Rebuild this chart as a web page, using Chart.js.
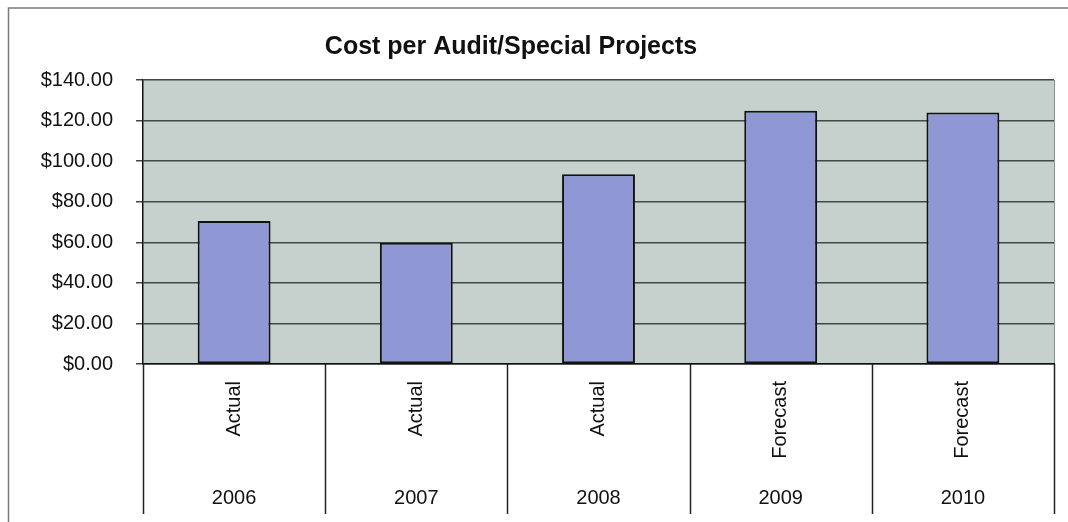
<!DOCTYPE html>
<html>
<head>
<meta charset="utf-8">
<script src="https://cdn.jsdelivr.net/npm/chart.js@4/dist/chart.umd.min.js"></script>
<style>
  html, body { margin: 0; padding: 0; background: #ffffff; }
  #wrap { width: 1068px; height: 522px; position: relative; }
</style>
</head>
<body>
<div id="wrap"><canvas id="auditChart"></canvas></div>
<script>
// Cost per audit by year
const years = ['2006', '2007', '2008', '2009', '2010'];
const status = ['Actual', 'Actual', 'Actual', 'Forecast', 'Forecast'];
const costs = [70.5, 59.8, 93.6, 124.8, 124.0];
const yMin = 0, yMax = 140, yStep = 20;

const titleText = 'Cost per Audit/Special Projects';
const fontFamily = '"Liberation Sans", Arial, sans-serif';

// plot background, outer frame, category dividers and title
const decorations = {
    id: 'decorations',
    beforeDraw(chart) {
        const {ctx, chartArea: a} = chart;
        ctx.save();
        ctx.fillStyle = '#c6d1ce';
        ctx.fillRect(a.left, a.top, a.right - a.left, a.bottom - a.top);
        ctx.strokeStyle = '#8a9290';
        ctx.lineWidth = 1;
        ctx.beginPath();
        ctx.moveTo(a.right + 0.5, a.top);
        ctx.lineTo(a.right + 0.5, a.bottom);
        ctx.stroke();
        ctx.restore();
    },
    afterDraw(chart) {
        const {ctx, chartArea: a} = chart;
        const x = chart.scales.x;
        ctx.save();
        // category table lines under the axis
        ctx.strokeStyle = '#222';
        ctx.lineWidth = 1.5;
        const half = (x.getPixelForValue(1) - x.getPixelForValue(0)) / 2;
        for (let i = 0; i <= years.length; i++) {
            const px = Math.round(x.getPixelForValue(0) - half + i * half * 2) + 0.5;
            ctx.beginPath();
            ctx.moveTo(px, a.bottom);
            ctx.lineTo(px, 514);
            ctx.stroke();
        }
        // outer frame
        ctx.strokeStyle = '#7a7a7a';
        ctx.lineWidth = 1.5;
        ctx.beginPath();
        ctx.moveTo(8.5, 522);
        ctx.lineTo(8.5, 8);
        ctx.lineTo(1068, 8);
        ctx.stroke();
        // title
        ctx.fillStyle = '#111';
        ctx.font = 'bold 25px ' + fontFamily;
        ctx.textAlign = 'center';
        ctx.textBaseline = 'middle';
        ctx.fillText(titleText, 511, 47);
        ctx.restore();
    }
};

const ctx = document.getElementById('auditChart').getContext('2d');

const audit_chart = new Chart(ctx, {
    type: 'bar',
    data: {
        labels: status,
        datasets: [{
            label: 'Cost per Audit',
            data: costs,
            xAxisID: 'x',
            yAxisID: 'y',
            backgroundColor: '#8f98d4',
            borderColor: '#111111',
            borderWidth: 2,
            borderSkipped: false,
            categoryPercentage: 1.0,
            barPercentage: 0.4
        }]
    },
    options: {
        responsive: true,
        maintainAspectRatio: false,
        animation: false,
        layout: {
            padding: {left: 8, right: 14, top: 80, bottom: 8}
        },
        plugins: {
            legend: {display: false},
            title: {display: false},
            tooltip: {enabled: false}
        },
        scales: {
            y: {
                type: 'linear',
                min: yMin,
                max: yMax,
                afterFit: s => { s.width = 135; },
                ticks: {
                    stepSize: yStep,
                    padding: 23,
                    color: '#111',
                    font: {family: fontFamily, size: 20},
                    callback: v => '$' + Number(v).toFixed(2)
                },
                grid: {
                    color: '#3d4a48',
                    lineWidth: 1.5,
                    tickLength: 7,
                    drawTicks: true
                },
                border: {color: '#111', width: 1.5}
            },
            x: {
                type: 'category',
                labels: status,
                position: 'bottom',
                afterFit: s => { s.height = 108; },
                ticks: {
                    minRotation: 90,
                    maxRotation: 90,
                    autoSkip: false,
                    padding: 17,
                    color: '#111',
                    font: {family: fontFamily, size: 20}
                },
                grid: {display: false, drawTicks: false},
                border: {color: '#111', width: 1.5}
            },
            x2: {
                type: 'category',
                labels: years,
                position: 'bottom',
                afterFit: s => { s.height = 42; },
                ticks: {
                    padding: 14,
                    maxRotation: 0,
                    autoSkip: false,
                    color: '#111',
                    font: {family: fontFamily, size: 20}
                },
                grid: {display: false, drawTicks: false},
                border: {display: false}
            }
        }
    },
    plugins: [decorations]
});
</script>
</body>
</html>
